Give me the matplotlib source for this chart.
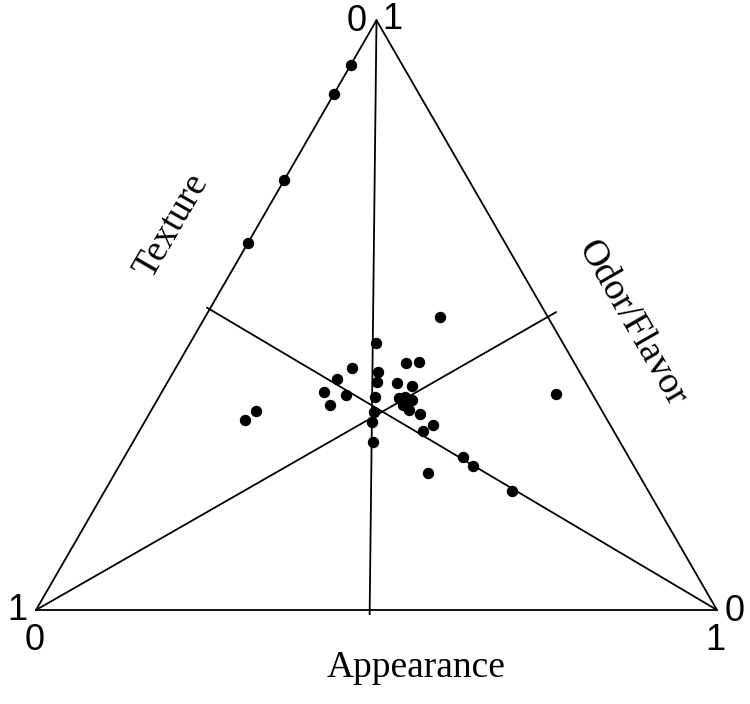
"""ternary plot of attribute weights: appearance, odor/flavor, texture"""
import numpy as np
import matplotlib
matplotlib.use("Agg")
import matplotlib.pyplot as plt

# share of each attribute per sample (appearance, odor/flavor, texture)
appearance = [0.00, 0.00, 0.00, 0.00, 0.345, 0.273, 0.259, 0.300, 0.334, 0.352,
              0.246, 0.307, 0.338, 0.362, 0.238, 0.273, 0.317, 0.258, 0.353, 0.361,
              0.374, 0.365, 0.378, 0.328, 0.398, 0.334, 0.426, 0.417, 0.352, 0.154,
              0.146, 0.497, 0.520, 0.459, 0.598, 0.581]
odor = [0.924, 0.875, 0.729, 0.622, 0.497, 0.453, 0.410, 0.404, 0.419, 0.421,
        0.392, 0.387, 0.385, 0.380, 0.370, 0.365, 0.361, 0.348, 0.360, 0.361,
        0.356, 0.348, 0.339, 0.336, 0.332, 0.319, 0.314, 0.304, 0.285, 0.337,
        0.322, 0.259, 0.244, 0.232, 0.202, 0.366]
texture = [0.076, 0.125, 0.271, 0.378, 0.158, 0.274, 0.331, 0.296, 0.247, 0.227,
           0.362, 0.306, 0.277, 0.258, 0.392, 0.362, 0.322, 0.394, 0.287, 0.278,
           0.270, 0.287, 0.283, 0.336, 0.270, 0.347, 0.260, 0.280, 0.363, 0.508,
           0.532, 0.243, 0.236, 0.308, 0.200, 0.053]

# where each guide line meets the opposite side
foot_base = 0.49     # appearance share on the bottom side
foot_right = 0.497   # odor share on the right side
foot_left = 0.51     # odor share on the left side

H = np.sqrt(3) / 2


def to_xy(a, o, t):
    a, o, t = np.asarray(a, float), np.asarray(o, float), np.asarray(t, float)
    s = a + o + t
    a, o = a / s, o / s
    return a + o / 2, o * H


top = np.array(to_xy(0, 1, 0))
left = np.array(to_xy(0, 0, 1))
right = np.array(to_xy(1, 0, 0))

fig = plt.figure(figsize=(7.5, 7.04), dpi=100)
ax = fig.add_axes([0, 0, 1, 1])
ax.set_xlim(-36 / 681, 714 / 681)
ax.set_ylim(-94 / 681, 610 / 681)
ax.axis("off")

# triangle outline
tri = np.array([left, right, top, left])
ax.plot(tri[:, 0], tri[:, 1], color="black", lw=1.3)

# guide lines from each corner to the opposite side, running a little past it
feet = [
    (top, np.array(to_xy(foot_base, 0, 1 - foot_base)), 1.007),
    (left, np.array(to_xy(1 - foot_right, foot_right, 0)), 1.016),
    (right, np.array(to_xy(0, foot_left, 1 - foot_left)), 1.005),
]
for start, foot, ext in feet:
    end = start + ext * (foot - start)
    ax.plot([start[0], end[0]], [start[1], end[1]], color="black", lw=1.3)

x, y = to_xy(appearance, odor, texture)
ax.plot(x, y, "o", color="black", markersize=7.2, zorder=3)

# corner tick values
num = dict(fontsize=26, family="Liberation Sans", ha="center", va="center")
ax.text(0.4714, 0.8649, "0", **num)
ax.text(0.5227, 0.8664, "1", **num)
ax.text(-0.0279, 0.0, "1", **num)
ax.text(-0.0015, -0.0441, "0", **num)
ax.text(1.0264, -0.0015, "0", **num)
ax.text(0.9971, -0.0441, "1", **num)

# axis names
lab = dict(fontsize=27, family="Liberation Serif", ha="center", va="center")
ax.text(0.558, -0.0852, "Appearance", **lab)
ax.text(0.1997, 0.5639, "Texture", rotation=60, **lab)
ax.text(0.8752, 0.4214, "Odor/Flavor", rotation=-60, **lab)

fig.savefig("out.png", dpi=100)
